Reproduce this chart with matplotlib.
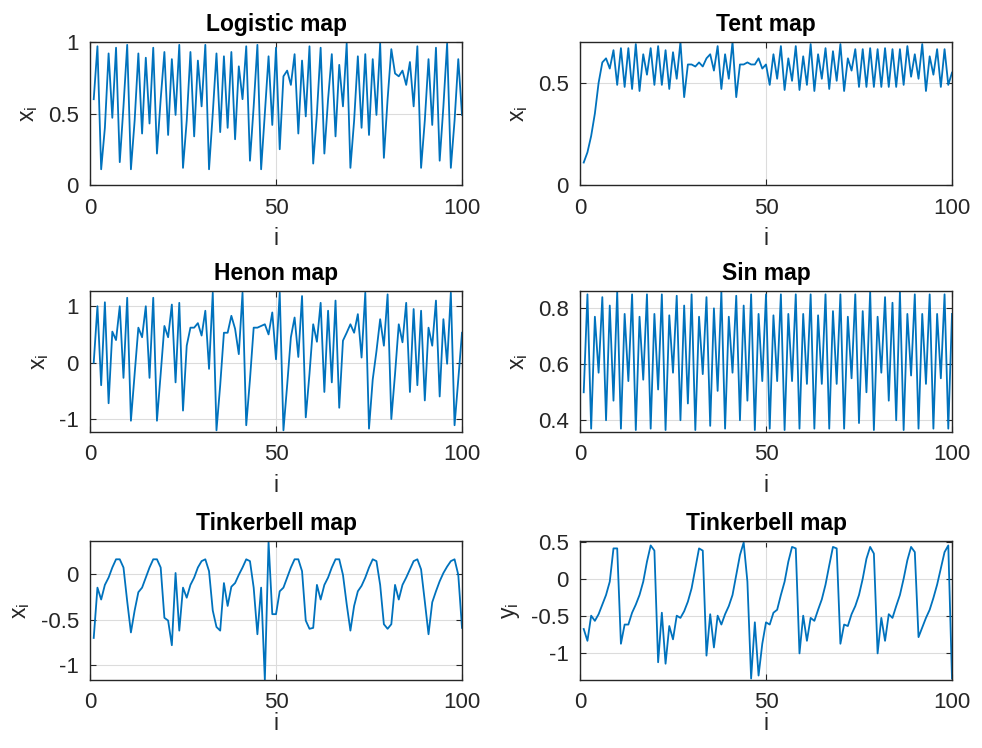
import matplotlib
matplotlib.use("Agg")
import matplotlib.pyplot as plt
import numpy as np

plt.rcParams['font.family'] = ['Liberation Sans', 'DejaVu Sans']
plt.rcParams['mathtext.fontset'] = 'custom'
plt.rcParams['mathtext.rm'] = 'Liberation Sans'
plt.rcParams['mathtext.it'] = 'Liberation Sans'

iters = list(range(1, 101))

logistic_x = [0.6, 0.97, 0.11, 0.4, 0.92, 0.47, 0.96, 0.16, 0.55, 0.98,
              0.11, 0.45, 0.92, 0.36, 0.89, 0.43, 0.96, 0.22, 0.6, 0.93,
              0.35, 0.88, 0.49, 0.98, 0.12, 0.45, 0.93, 0.34, 0.87, 0.55,
              0.98, 0.11, 0.5, 0.92, 0.37, 0.9, 0.4, 0.93, 0.32, 0.83,
              0.6, 0.97, 0.17, 0.55, 0.98, 0.11, 0.5, 0.9, 0.42, 0.96,
              0.25, 0.76, 0.8, 0.7, 0.915, 0.36, 0.87, 0.48, 0.97, 0.15,
              0.5, 0.96, 0.22, 0.6, 0.915, 0.34, 0.84, 0.55, 0.99, 0.12,
              0.45, 0.9, 0.4, 0.915, 0.35, 0.88, 0.49, 0.99, 0.19, 0.6,
              0.95, 0.78, 0.76, 0.8, 0.7, 0.86, 0.55, 0.97, 0.12, 0.45,
              0.88, 0.42, 0.96, 0.17, 0.55, 0.99, 0.12, 0.45, 0.88, 0.49]

tent_x = [0.11, 0.16, 0.24, 0.35, 0.5, 0.6, 0.62, 0.57, 0.66, 0.49,
          0.67, 0.48, 0.67, 0.47, 0.69, 0.46, 0.64, 0.54, 0.67, 0.49,
          0.68, 0.49, 0.66, 0.47, 0.65, 0.52, 0.70, 0.43, 0.59, 0.59,
          0.58, 0.6, 0.58, 0.62, 0.64, 0.56, 0.68, 0.47, 0.64, 0.52,
          0.70, 0.43, 0.59, 0.59, 0.6, 0.59, 0.59, 0.62, 0.57, 0.59,
          0.49, 0.64, 0.52, 0.68, 0.465, 0.62, 0.51, 0.68, 0.465, 0.63,
          0.49, 0.69, 0.46, 0.64, 0.52, 0.67, 0.47, 0.655, 0.51, 0.69,
          0.46, 0.62, 0.56, 0.665, 0.48, 0.665, 0.48, 0.67, 0.48, 0.665,
          0.48, 0.67, 0.48, 0.665, 0.48, 0.665, 0.49, 0.68, 0.53, 0.64,
          0.52, 0.69, 0.46, 0.63, 0.54, 0.665, 0.48, 0.665, 0.49, 0.55]

henon_x = [0.0, 1.0, -0.4, 1.07, -0.72, 0.55, 0.4, 1.0, -0.27, 1.15,
           -1.03, -0.2, 0.62, 0.45, 1.0, -0.27, 1.15, -1.03, -0.2, 0.65,
           0.45, 1.03, -0.35, 1.06, -0.85, 0.3, 0.62, 0.62, 0.7, 0.48,
           0.92, -0.11, 1.24, -1.2, -0.4, 0.53, 0.53, 0.83, 0.6, 0.15,
           1.24, -1.11, -0.3, 0.62, 0.62, 0.65, 0.68, 0.5, 0.89, 0.06,
           1.24, -1.2, -0.4, 0.45, 0.8, 0.1, 1.18, -0.97, -0.2, 0.68,
           0.37, 1.06, -0.52, 0.92, -0.35, 1.1, -0.8, 0.39, 0.53, 0.68,
           0.53, 0.86, 0.09, 1.24, -1.17, -0.3, 0.2, 0.77, 0.3, 1.21,
           -1.0, -0.2, 0.68, 0.36, 1.06, -0.52, 0.95, -0.4, 0.92, -0.67,
           0.62, 0.3, 1.1, -0.6, 0.77, -0.02, 1.24, -1.11, -0.3, 0.53]

sin_x = [0.5, 0.85, 0.37, 0.77, 0.57, 0.84, 0.40, 0.81, 0.47, 0.86,
         0.37, 0.78, 0.54, 0.85, 0.365, 0.77, 0.545, 0.85, 0.37, 0.78,
         0.51, 0.85, 0.365, 0.775, 0.57, 0.845, 0.40, 0.81, 0.46, 0.85,
         0.365, 0.77, 0.565, 0.84, 0.38, 0.80, 0.505, 0.86, 0.37, 0.77,
         0.57, 0.845, 0.40, 0.81, 0.47, 0.85, 0.365, 0.78, 0.54, 0.85,
         0.37, 0.775, 0.54, 0.85, 0.365, 0.78, 0.54, 0.85, 0.37, 0.78,
         0.53, 0.85, 0.37, 0.775, 0.53, 0.85, 0.37, 0.79, 0.53, 0.85,
         0.37, 0.77, 0.55, 0.85, 0.39, 0.79, 0.5, 0.86, 0.365, 0.77,
         0.57, 0.84, 0.47, 0.82, 0.40, 0.86, 0.365, 0.78, 0.56, 0.85,
         0.37, 0.78, 0.53, 0.85, 0.37, 0.78, 0.55, 0.85, 0.37, 0.78]

tinker_x = [-0.7, -0.15, -0.28, -0.12, -0.04, 0.07, 0.16, 0.16, 0.07, -0.3,
            -0.64, -0.4, -0.2, -0.15, -0.04, 0.07, 0.16, 0.16, 0.07, -0.48,
            -0.51, -0.78, 0.01, -0.62, -0.15, -0.26, -0.12, -0.04, 0.07, 0.14,
            0.16, 0.03, -0.4, -0.58, -0.62, -0.1, -0.35, -0.14, -0.1, -0.01,
            0.07, 0.16, 0.14, -0.15, -0.66, -0.15, -1.16, 0.35, -0.44, -0.44,
            -0.19, -0.15, -0.04, 0.07, 0.16, 0.16, 0.03, -0.51, -0.6, -0.59,
            -0.12, -0.28, -0.12, -0.04, 0.07, 0.16, 0.16, -0.01, -0.33, -0.62,
            -0.35, -0.19, -0.13, -0.04, 0.07, 0.16, 0.14, -0.12, -0.55, -0.6,
            -0.55, -0.12, -0.28, -0.12, -0.04, 0.05, 0.14, 0.16, 0.05, -0.3,
            -0.66, -0.31, -0.19, -0.08, 0.01, 0.08, 0.14, 0.16, -0.01, -0.59]

tinker_y = [-0.67, -0.83, -0.49, -0.56, -0.47, -0.34, -0.21, -0.03, 0.42, 0.42,
            -0.87, -0.61, -0.61, -0.45, -0.34, -0.21, -0.03, 0.24, 0.46, 0.39,
            -1.12, -0.45, -1.14, -0.63, -0.81, -0.49, -0.52, -0.43, -0.3, -0.12,
            0.15, 0.42, 0.39, -1.03, -0.47, -0.92, -0.49, -0.61, -0.47, -0.36,
            -0.21, 0.06, 0.33, 0.5, -0.03, -1.34, -0.58, -1.3, -0.87, -0.58,
            -0.61, -0.45, -0.41, -0.21, -0.03, 0.24, 0.44, 0.42, -1.0, -0.49,
            -0.83, -0.52, -0.56, -0.41, -0.27, -0.07, 0.19, 0.44, 0.42, -0.87,
            -0.61, -0.63, -0.47, -0.36, -0.21, 0.01, 0.28, 0.44, 0.35, -1.0,
            -0.52, -0.83, -0.47, -0.52, -0.36, -0.21, 0.01, 0.26, 0.44, 0.37,
            -0.78, -0.65, -0.52, -0.41, -0.25, -0.07, 0.15, 0.37, 0.46, -1.34]

titles = ['Logistic map', 'Tent map', 'Henon map', 'Sin map', 'Tinkerbell map', 'Tinkerbell map']
ylabels = [r'x$_\mathregular{i}$'] * 5 + [r'y$_\mathregular{i}$']
series = [logistic_x, tent_x, henon_x, sin_x, tinker_x, tinker_y]
ylims = [(0, 1), (0, 0.7), (-1.23, 1.27), (0.358, 0.862), (-1.16, 0.36), (-1.36, 0.52)]
yticks = [[0, 0.5, 1], [0, 0.5], [-1, 0, 1], [0.4, 0.6, 0.8], [-1, -0.5, 0], [-1, -0.5, 0, 0.5]]
yticklabels = [['0', '0.5', '1'], ['0', '0.5'], ['-1', '0', '1'], ['0.4', '0.6', '0.8'],
               ['-1', '-0.5', '0'], ['-1', '-0.5', '0', '0.5']]
xticks = [0, 50, 100]

W, H = 982, 748
fig = plt.figure(figsize=(W / 100, H / 100), dpi=100)
lefts = [90, 580]
rows = [(42, 185), (291, 432), (541, 680)]
xlabelpads = [6, 6, -1]
line_color = '#0072BD'
edge = '#262626'

for k in range(6):
    r, c = divmod(k, 2)
    top, bot = rows[r]
    ax = fig.add_axes([lefts[c] / W, 1 - bot / H, 372 / W, (bot - top) / H])
    ax.plot(iters, series[k], color=line_color, lw=1.3)
    ax.set_xlim(0, 100)
    ax.set_ylim(*ylims[k])
    ax.set_xticks(xticks)
    ax.set_yticks(yticks[k])
    ax.set_yticklabels(yticklabels[k])
    ax.grid(True, color='#dcdcdc', lw=0.8)
    ax.set_axisbelow(True)
    ax.tick_params(direction='in', length=4, width=0.8, colors=edge,
                   labelsize=16, top=True, right=True, pad=8)
    ax.tick_params(axis='x', pad=9)
    for s in ax.spines.values():
        s.set_color(edge)
        s.set_linewidth(1.0)
    ax.set_title(titles[k], fontsize=16.5, fontweight='bold', color='black', pad=8)
    ax.set_xlabel('i', fontsize=16.5, color=edge, labelpad=xlabelpads[r])
    ax.set_ylabel(ylabels[k], fontsize=16.5, color=edge, labelpad=6)

fig.savefig('out.png', dpi=100, facecolor='white')
